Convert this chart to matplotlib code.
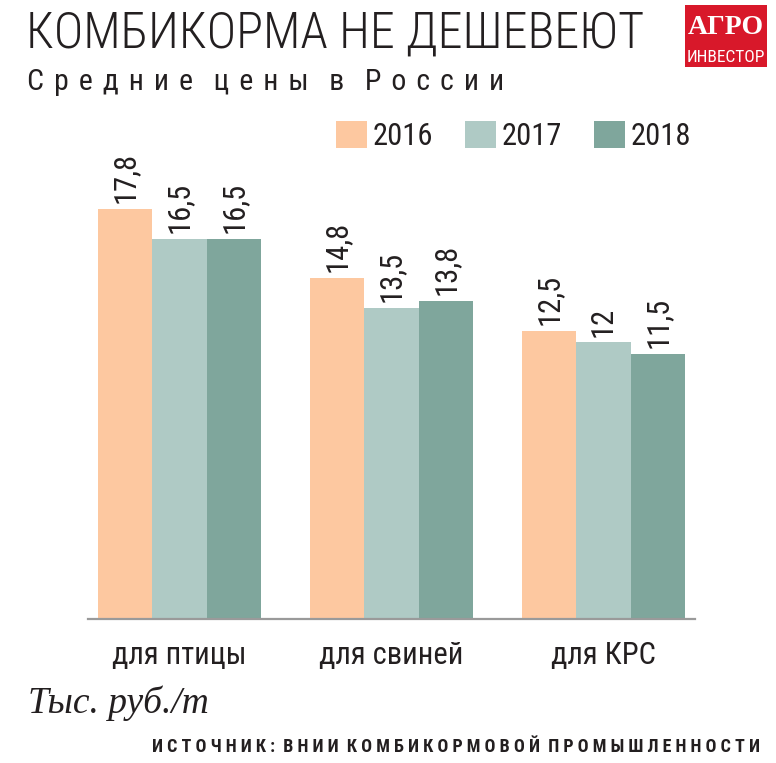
import matplotlib
matplotlib.use('Agg')
import matplotlib.pyplot as plt
from matplotlib import font_manager as fm
from matplotlib.patches import Rectangle

# ---- data ----
categories = ['для птицы', 'для свиней', 'для КРС']
years = ['2016', '2017', '2018']
v2016 = [17.8, 14.8, 12.5]
v2017 = [16.5, 13.5, 12.0]
v2018 = [16.5, 13.8, 11.5]
series = [v2016, v2017, v2018]
colors = ['#FDC8A0', '#AFCAC5', '#7FA69C']

title = 'КОМБИКОРМА НЕ ДЕШЕВЕЮТ'
subtitle = 'Средние цены в России'
unit = 'Тыс. руб./т'
source = 'ИСТОЧНИК: ВНИИ КОМБИКОРМОВОЙ ПРОМЫШЛЕННОСТИ'

# ---- fonts ----
names = {f.name for f in fm.fontManager.ttflist}
narrow = None
for cand in ['Roboto Condensed', 'Liberation Sans Narrow', 'Open Sans Condensed',
             'Noto Sans Condensed', 'DejaVu Sans Condensed']:
    if cand in names:
        narrow = cand
        break
if narrow is None:
    narrow = 'DejaVu Sans'
NF = [narrow, 'DejaVu Sans']
serif = 'Liberation Serif' if 'Liberation Serif' in names else 'DejaVu Serif'

TXT = '#231f20'
W, H = 776, 763
fig = plt.figure(figsize=(W / 100, H / 100), dpi=100)
fig.patch.set_facecolor('white')


def fx(px):
    return px / W


def fy(py):
    return 1 - py / H


def spaced(s, sep=' \u200a', wsep='   '):
    return wsep.join(sep.join(w) for w in s.split(' '))


# axes: baseline at y=619px, x from 88 to 695 px, 23.05 px per unit
ymax = 20
ax_h = ymax * 23.05
ax = fig.add_axes([fx(88), fy(619), fx(695) - fx(88), ax_h / H])
ax.set_xlim(-0.431, 2.432)
ax.set_ylim(0, ymax)

bw = 0.257
for j, (vals, c, yr) in enumerate(zip(series, colors, years)):
    xs = [i + (j - 1) * bw for i in range(len(categories))]
    ax.bar(xs, vals, width=bw, color=c, label=yr, linewidth=0)
    for x, v in zip(xs, vals):
        lab = f'{v:g}'.replace('.', ',')
        ax.text(x, v + 0.25, lab, rotation=90, ha='center', va='bottom',
                fontsize=22, family=NF, color=TXT)

for s in ['top', 'right', 'left']:
    ax.spines[s].set_visible(False)
ax.spines['bottom'].set_color('#9a9a9a')
ax.spines['bottom'].set_linewidth(1.6)
ax.set_yticks([])
ax.set_xticks(range(len(categories)))
ax.set_xticklabels(categories, fontsize=22, family=NF, color=TXT)
ax.tick_params(axis='x', length=0, pad=16)
ax.patch.set_alpha(0)

leg = ax.legend(loc='upper left', bbox_to_anchor=(fx(336), fy(121)),
                bbox_transform=fig.transFigure, ncol=3, frameon=False,
                prop={'family': NF, 'size': 22}, handlelength=1.0,
                handleheight=1.0, handletextpad=0.2, columnspacing=1.05,
                borderpad=0, borderaxespad=0)
for t in leg.get_texts():
    t.set_color(TXT)

# titles
fig.text(fx(26), fy(48), title, fontsize=36, family=NF, weight='light',
         color=TXT, ha='left', va='baseline')
fig.text(fx(27), fy(90), spaced(subtitle), fontsize=21.5, family=NF,
         color=TXT, ha='left', va='baseline')

fig.text(fx(28), fy(713), unit, fontsize=27, family=serif, style='italic',
         color=TXT, ha='left', va='baseline')
fig.text(fx(760), fy(752), spaced(source, sep=' ', wsep='  '), fontsize=13,
         family=NF, weight='bold', color=TXT, ha='right', va='baseline')

# logo
fig.patches.append(Rectangle((fx(685), fy(67)), fx(767) - fx(685), (67 - 5) / H,
                             transform=fig.transFigure, facecolor='#D8182A',
                             edgecolor='none'))
fig.text(fx(726), fy(34), 'АГРО', fontsize=20, family=serif, weight='bold',
         color='white', ha='center', va='baseline')
fig.text(fx(726), fy(62), 'ИНВЕСТОР', fontsize=12.5, family=NF, color='white',
         ha='center', va='baseline')

fig.savefig('out.png', dpi=100)
